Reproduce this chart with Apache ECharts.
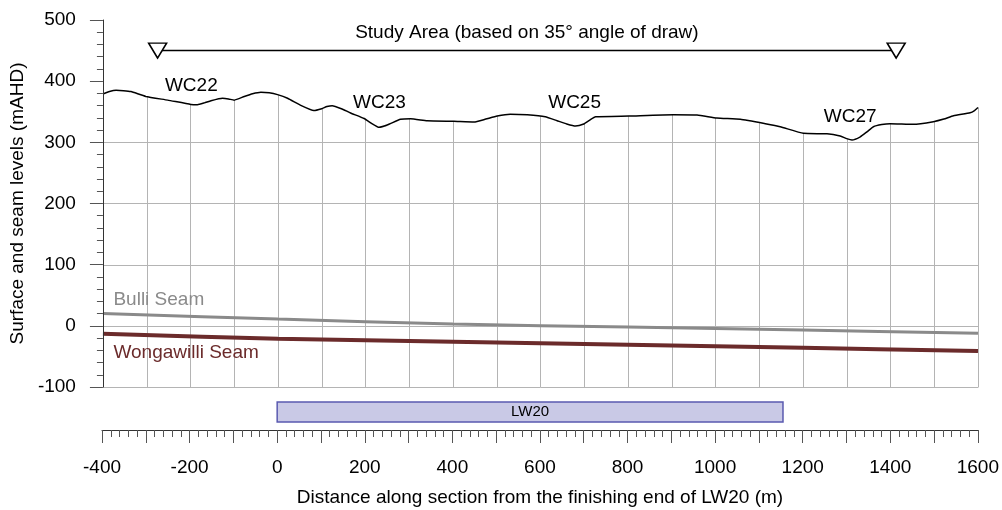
<!DOCTYPE html>
<html><head><meta charset="utf-8">
<script src="https://cdn.jsdelivr.net/npm/echarts@6/dist/echarts.min.js"></script>
<style>html,body{margin:0;padding:0;background:#fff}#c{width:1002px;height:510px}</style>
</head><body><div id="c"></div>
<script>
// ---- data ----
const surfaceX = [-400,-385,-370,-353,-336,-302,-252,-199,-184,-168,-153,-127,-113,-100,-77,-58,-39,-20,-1,22,52,82,100,112,124,145,166,197,214,231,245,258,280,303,341,402,448,475,501,531,570,611,638,660,680,699,712,726,802,904,958,1003,1057,1114,1148,1201,1255,1285,1300,1312,1331,1346,1361,1380,1399,1452,1498,1522,1544,1582,1592,1600];
const surfaceY = [379,383,385,384.5,383,375,369,362,361.5,364.5,368,372,371,369,375,379.5,382,381,378,372,360.5,352,355,358.5,360,355,348,339,331,324.5,327,331,337.6,338.6,335.3,334.3,333.2,338,343,346,345,341.8,335.3,330,326.6,330,336,341.8,343,345,344.6,339.7,337.6,330.4,325.5,314.7,314,310.3,306,303.7,309,317,325.5,329,330.4,329.4,333.7,338,343.5,348.4,352,357];
const seamX = [-400,0,400,800,1200,1600];
const bulliY = [20,11,3,-2,-7,-12];
const wongawilliY = [-13,-21,-26,-31,-36,-41];
const creekNames = ['WC22','WC23','WC25','WC27'];
const creekX = [-198,232,678,1308];
const creekY = [392,364,364,342];
const studyX = [-275,1413];
const studyY = [450,450];
const studyText = 'Study Area (based on 35° angle of draw)';
const studyTextX = 569, studyTextY = 479;
const seamNames = ['Bulli Seam','Wongawilli Seam'];
const seamLabelX = [-376,-376];
const seamLabelY = [42,-44];
const panelName = 'LW20';
const panelStart = 0, panelEnd = 1155;
const gridXTicks = [-400,-300,-200,-100,0,100,200,300,400,500,600,700,800,900,1000,1100,1200,1300,1400,1500,1600];
const gridYTicks = [-100,0,100,200,300];
const yTicks = {min:-100, max:500, step:100};
const xTicks = {min:-400, max:1600, step:100, labelStep:200};

const zip = (a,b) => a.map((v,i)=>[v,b[i]]);
function surfaceAt(x){
  for (let i=0;i<surfaceX.length-1;i++){
    if (x>=surfaceX[i] && x<=surfaceX[i+1]){
      const t=(x-surfaceX[i])/(surfaceX[i+1]-surfaceX[i]);
      return surfaceY[i]+t*(surfaceY[i+1]-surfaceY[i]);
    }
  }
  return surfaceY[surfaceY.length-1];
}
const crisp = v => Math.round(v)+0.5;
const FONT = 'Liberation Sans, Arial, sans-serif';
const GRIDC = '#b4b4b4';
const chart = echarts.init(document.getElementById('c'));
chart.setOption({
  animation:false,
  backgroundColor:'#fff',
  textStyle:{fontFamily:FONT},
  grid:[
    {left:102,right:24,top:20,bottom:123},
    {left:102,right:24,top:402,bottom:88}
  ],
  xAxis:[
    {gridIndex:0,type:'value',min:xTicks.min,max:xTicks.max,interval:xTicks.step,
     axisLine:{show:false,onZero:false},axisTick:{show:false},axisLabel:{show:false},
     splitLine:{show:false}},
    {gridIndex:1,type:'value',min:xTicks.min,max:xTicks.max,interval:xTicks.step,offset:8,
     axisLine:{show:true,onZero:false,lineStyle:{color:'#333',width:1}},
     axisTick:{show:true,length:13,lineStyle:{color:'#555'}},
     minorTick:{show:true,splitNumber:5,length:7,lineStyle:{color:'#555'}},
     splitLine:{show:false},
     axisLabel:{margin:28,fontSize:19,color:'#000',fontFamily:FONT,
       formatter:v=> (v % xTicks.labelStep === 0 ? String(v) : '')},
     name:'Distance along section from the finishing end of LW20 (m)',
     nameLocation:'middle',nameGap:58,
     nameTextStyle:{fontSize:19,color:'#000',fontFamily:FONT}}
  ],
  yAxis:[
    {gridIndex:0,type:'value',min:yTicks.min,max:yTicks.max,interval:yTicks.step,z:10,
     axisLine:{show:true,onZero:false,lineStyle:{color:'#333',width:1}},
     axisTick:{show:true,length:13,lineStyle:{color:'#555'}},
     minorTick:{show:true,splitNumber:5,length:6,lineStyle:{color:'#555'}},
     splitLine:{show:false},
     axisLabel:{margin:27,fontSize:19,color:'#000',fontFamily:FONT},
     name:'Surface and seam levels (mAHD)',nameLocation:'middle',nameGap:69,nameRotate:90,
     nameTextStyle:{fontSize:19,color:'#000',fontFamily:FONT}},
    {gridIndex:1,type:'value',min:0,max:1,show:false}
  ],
  series:[
    {type:'custom',name:'Grid',xAxisIndex:0,yAxisIndex:0,z:1,silent:true,
     data:gridXTicks.map(x=>[x,surfaceAt(x)]),
     renderItem:(params,api)=>{
       if (params.dataIndex !== 0) return null;
       const children = [];
       gridXTicks.forEach(x=>{
         const top = api.coord([x,surfaceAt(x)]);
         const bot = api.coord([x,yTicks.min]);
         const cx = crisp(top[0]);
         children.push({type:'line',shape:{x1:cx,y1:top[1],x2:cx,y2:bot[1]},
           style:{stroke:GRIDC,lineWidth:1}});
       });
       gridYTicks.forEach(y=>{
         const a = api.coord([xTicks.min,y]);
         const b = api.coord([xTicks.max,y]);
         const cy = crisp(a[1]);
         children.push({type:'line',shape:{x1:a[0],y1:cy,x2:b[0]+0.5,y2:cy},
           style:{stroke:GRIDC,lineWidth:1}});
       });
       return {type:'group',children};
     }},
    {type:'line',name:'Surface',xAxisIndex:0,yAxisIndex:0,data:zip(surfaceX,surfaceY),
     smooth:0.15,symbol:'none',lineStyle:{color:'#000',width:1.5},z:3},
    {type:'line',name:'Bulli Seam',xAxisIndex:0,yAxisIndex:0,data:zip(seamX,bulliY),
     smooth:0.3,symbol:'none',lineStyle:{color:'#8a8a8a',width:3},z:4},
    {type:'line',name:'Wongawilli Seam',xAxisIndex:0,yAxisIndex:0,data:zip(seamX,wongawilliY),
     smooth:0.3,symbol:'none',lineStyle:{color:'#6b2b2b',width:4},z:4},
    {type:'line',name:'Study Area',xAxisIndex:0,yAxisIndex:0,data:zip(studyX,studyY),
     symbol:'triangle',symbolRotate:180,symbolSize:[18,15],showAllSymbol:true,
     itemStyle:{color:'#fff',borderColor:'#000',borderWidth:1.5},
     lineStyle:{color:'#000',width:1.5},z:5},
    {type:'scatter',name:'Labels',xAxisIndex:0,yAxisIndex:0,symbolSize:0,z:6,
     itemStyle:{opacity:1},
     data:creekNames.map((n,i)=>({name:n,value:[creekX[i],creekY[i]]}))
       .concat([{name:studyText,value:[studyTextX,studyTextY]}]),
     label:{show:true,position:'inside',formatter:p=>p.name,fontSize:19,color:'#000',opacity:1,
       textBorderWidth:0,textBorderColor:'transparent',fontFamily:FONT}},
    {type:'scatter',name:'SeamLabels',xAxisIndex:0,yAxisIndex:0,symbolSize:0,z:6,
     itemStyle:{opacity:1},
     data:seamNames.map((n,i)=>({name:n,value:[seamLabelX[i],seamLabelY[i]],
       label:{color:i===0?'#8a8a8a':'#6b2b2b'}})),
     label:{show:true,position:'inside',align:'left',formatter:p=>p.name,fontSize:19,opacity:1,
       textBorderWidth:0,textBorderColor:'transparent',fontFamily:FONT}},
    {type:'custom',name:panelName,xAxisIndex:1,yAxisIndex:1,
     data:[[panelStart,panelEnd]],
     renderItem:(params,api)=>{
       const p0 = api.coord([api.value(0),1]);
       const p1 = api.coord([api.value(1),0]);
       return {type:'group',children:[
         {type:'rect',shape:{x:p0[0],y:p0[1],width:p1[0]-p0[0],height:p1[1]-p0[1]},
          style:{fill:'#c9c9e6',stroke:'#5a5ab0',lineWidth:1.5}},
         {type:'text',style:{text:panelName,x:(p0[0]+p1[0])/2,y:(p0[1]+p1[1])/2,
          align:'center',verticalAlign:'middle',fontSize:15,fill:'#000',fontFamily:FONT}}
       ]};
     }}
  ]
});
</script></body></html>
